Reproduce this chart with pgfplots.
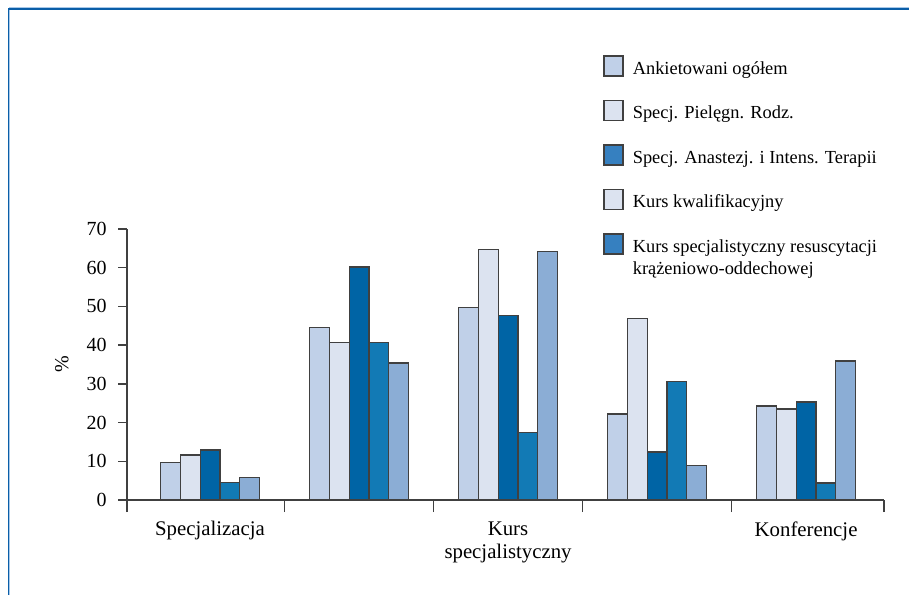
\documentclass[border=0pt]{standalone}
\usepackage{fontspec}
\setmainfont{Liberation Serif}
\usepackage{pgfplots}
\pgfplotsset{compat=1.18}

\definecolor{barA}{HTML}{C0D0E8}
\definecolor{barB}{HTML}{DCE3F0}
\definecolor{barC}{HTML}{0064A5}
\definecolor{barD}{HTML}{127AB5}
\definecolor{barE}{HTML}{8BADD5}
\definecolor{legC}{HTML}{3680C0}
\definecolor{edge}{HTML}{404040}
\definecolor{framedark}{HTML}{0A5EA8}
\definecolor{framelight}{HTML}{A8C8E8}

\begin{document}
\begin{tikzpicture}
\path[use as bounding box] (0pt,0pt) rectangle (454.5pt,297.5pt);
% page frame
\draw[framelight, line width=0.5pt] (4.7pt,0pt) -- (4.7pt,293.6pt) -- (454.5pt,293.6pt);
\draw[framedark, line width=0.7pt] (4.2pt,0pt) -- (4.2pt,293pt) -- (454.5pt,293pt);

\begin{axis}[
    at={(63.5pt,47.5pt)}, anchor=south west,
    scale only axis,
    width=378.5pt, height=135.5pt,
    xmin=-0.557, xmax=4.523,
    ymin=0, ymax=70,
    axis lines=left,
    axis line style={-, draw=edge, line width=0.7pt},
    tick style={draw=edge, line width=0.7pt},
    tick align=outside,
    major tick length=6pt,
    xtick={-0.557,0.5,1.5,2.5,3.5,4.523},
    xticklabels={},
    extra x ticks={0,2,4},
    extra x tick labels={Specjalizacja,{Kurs\\specjalistyczny},Konferencje},
    extra x tick style={major tick length=0pt},
    ytick=\empty,
    extra y ticks={0,10,20,30,40,50,60,70},
    extra y tick style={major tick length=4.5pt},
    font=\fontsize{10}{11.5}\selectfont,
    /pgf/number format/assume math mode=true,
    xticklabel style={align=center, inner sep=0pt, anchor=north, yshift=-10.5pt,
        font=\fontsize{10.4}{11.6}\selectfont},
    yticklabel style={inner sep=0pt, anchor=east, xshift=-5.5pt},
    ylabel={\%},
    ylabel style={at={(axis description cs:-0.086,0.5)}, anchor=center},
    ybar, bar width=0.1329,
    legend image code/.code={\draw[#1] (0pt,-0.9pt) rectangle (9.5pt,9.1pt);},
    legend style={
        at={(axis description cs:0.6288,1.642)}, anchor=north west,
        draw=none, fill=none, inner sep=0pt,
        row sep=10.85pt, column sep=4.6pt,
        cells={anchor=base west},
        nodes={inner sep=0pt, text depth=2pt},
        font=\fontsize{9.2}{11}\selectfont
    },
]
\addplot[forget plot, fill=barA, draw=edge, line width=0.6pt, bar shift=-0.2658]
    coordinates {(0,9.6) (1,44.5) (2,49.7) (3,22.2) (4,24.3)};
\addplot[forget plot, fill=barB, draw=edge, line width=0.6pt, bar shift=-0.1329]
    coordinates {(0,11.6) (1,40.6) (2,64.7) (3,46.8) (4,23.5)};
\addplot[forget plot, fill=barC, draw=edge, line width=0.6pt, bar shift=0]
    coordinates {(0,12.9) (1,60.2) (2,47.7) (3,12.4) (4,25.3)};
\addplot[forget plot, fill=barD, draw=edge, line width=0.6pt, bar shift=0.1329]
    coordinates {(0,4.6) (1,40.6) (2,17.5) (3,30.7) (4,4.4)};
\addplot[forget plot, fill=barE, draw=edge, line width=0.6pt, bar shift=0.2658]
    coordinates {(0,5.9) (1,35.4) (2,64.1) (3,9.0) (4,35.9)};

\addlegendimage{fill=barA, draw=edge, line width=0.6pt}
\addlegendimage{fill=barB, draw=edge, line width=0.6pt}
\addlegendimage{fill=legC, draw=edge, line width=0.6pt}
\addlegendimage{fill=barB, draw=edge, line width=0.6pt}
\addlegendimage{fill=legC, draw=edge, line width=0.6pt}
\legend{Ankietowani ogółem, Specj. Pielęgn. Rodz., Specj. Anastezj. i Intens. Terapii, Kurs kwalifikacyjny,
    {\begin{tabular}[t]{@{}l@{}}Kurs specjalistyczny resuscytacji\\krążeniowo-oddechowej\end{tabular}}}
\end{axis}
\end{tikzpicture}
\end{document}
